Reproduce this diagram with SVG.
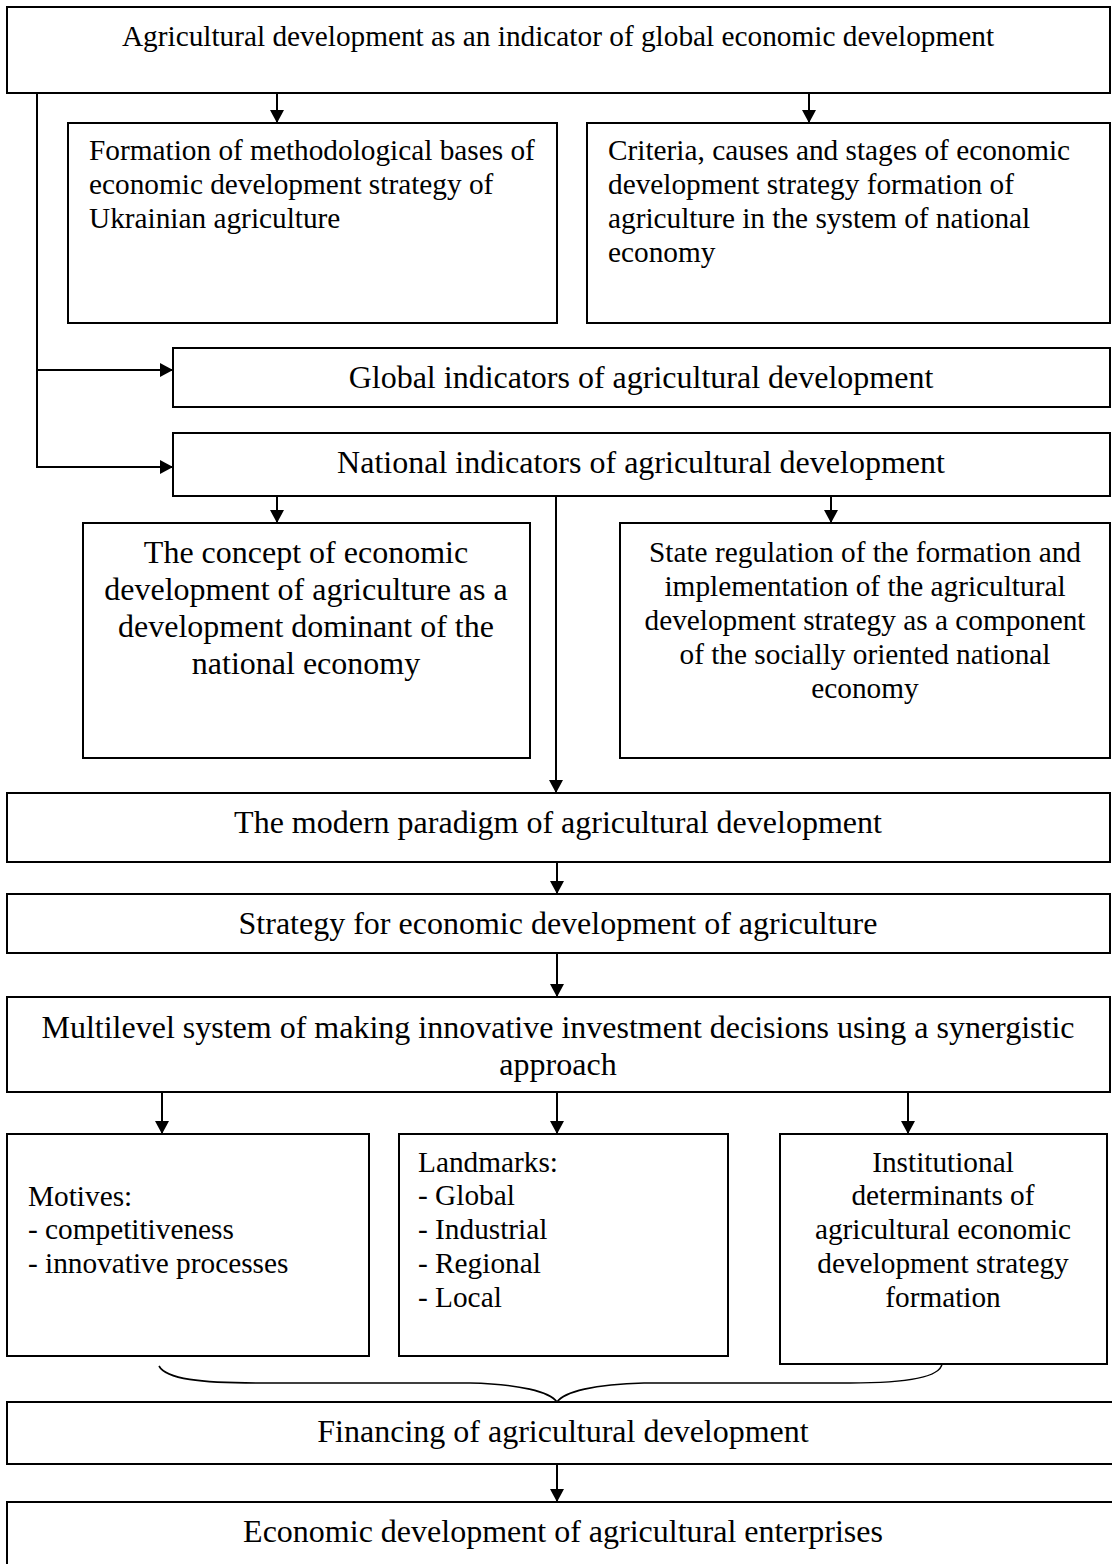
<svg xmlns="http://www.w3.org/2000/svg" width="1112" height="1564" viewBox="0 0 1112 1564">
<style>
  .box { fill: #fff; stroke: #000; stroke-width: 2; }
  .t { font-family: "Liberation Serif", "Times New Roman", serif; fill: #000; }
  .s { font-size: 29.3px; }
  .l { font-size: 32px; }
  .c { text-anchor: middle; }
  .conn { fill: none; stroke: #000; stroke-width: 2; }
  .brace { fill: none; stroke: #000; stroke-width: 1.6; }
</style>
<defs>
  <marker id="arr" viewBox="0 0 13 14" refX="13" refY="7" markerWidth="13" markerHeight="14" markerUnits="userSpaceOnUse" orient="auto">
    <path d="M0,0 L13,7 L0,14 z" fill="#000"/>
  </marker>
</defs>
<rect width="1112" height="1564" fill="#fff"/>

<g id="connectors">
  <line class="conn" x1="277" y1="93" x2="277" y2="123" marker-end="url(#arr)"/>
  <line class="conn" x1="809" y1="93" x2="809" y2="123" marker-end="url(#arr)"/>
  <polyline class="conn" points="37,93 37,467 173,467" marker-end="url(#arr)"/>
  <line class="conn" x1="37" y1="370" x2="173" y2="370" marker-end="url(#arr)"/>
  <line class="conn" x1="277" y1="496" x2="277" y2="523" marker-end="url(#arr)"/>
  <line class="conn" x1="831" y1="496" x2="831" y2="523" marker-end="url(#arr)"/>
  <line class="conn" x1="556" y1="496" x2="556" y2="793" marker-end="url(#arr)"/>
  <line class="conn" x1="557" y1="862" x2="557" y2="894" marker-end="url(#arr)"/>
  <line class="conn" x1="557" y1="953" x2="557" y2="997" marker-end="url(#arr)"/>
  <line class="conn" x1="162" y1="1092" x2="162" y2="1134" marker-end="url(#arr)"/>
  <line class="conn" x1="557" y1="1092" x2="557" y2="1134" marker-end="url(#arr)"/>
  <line class="conn" x1="908" y1="1092" x2="908" y2="1134" marker-end="url(#arr)"/>
  <path class="brace" d="M159,1366 C166,1379 200,1383 260,1383 L470,1383 C520,1384 550,1392 557,1402 C564,1392 594,1384 644,1383 L850,1383 C910,1383 940,1377 942,1364"/>
  <line class="conn" x1="557" y1="1464" x2="557" y2="1502" marker-end="url(#arr)"/>
</g>

<g id="n-top">
  <rect class="box" x="7" y="7" width="1103" height="86"/>
  <text class="t s c" x="558" y="46">Agricultural development as an indicator of global economic development</text>
</g>

<g id="n-formation">
  <rect class="box" x="68" y="123" width="489" height="200"/>
  <text class="t s" x="89" y="160">Formation of methodological bases of</text>
  <text class="t s" x="89" y="194">economic development strategy of</text>
  <text class="t s" x="89" y="228">Ukrainian agriculture</text>
</g>

<g id="n-criteria">
  <rect class="box" x="587" y="123" width="523" height="200"/>
  <text class="t s" x="608" y="160">Criteria, causes and stages of economic</text>
  <text class="t s" x="608" y="194">development strategy formation of</text>
  <text class="t s" x="608" y="228">agriculture in the system of national</text>
  <text class="t s" x="608" y="262">economy</text>
</g>

<g id="n-global">
  <rect class="box" x="173" y="348" width="937" height="59"/>
  <text class="t l c" x="641" y="388">Global indicators of agricultural development</text>
</g>

<g id="n-national">
  <rect class="box" x="173" y="433" width="937" height="63"/>
  <text class="t l c" x="641" y="473">National indicators of agricultural development</text>
</g>

<g id="n-concept">
  <rect class="box" x="83" y="523" width="447" height="235"/>
  <text class="t l c" x="306" y="563">The concept of economic</text>
  <text class="t l c" x="306" y="600">development of agriculture as a</text>
  <text class="t l c" x="306" y="637">development dominant of the</text>
  <text class="t l c" x="306" y="674">national economy</text>
</g>

<g id="n-state">
  <rect class="box" x="620" y="523" width="490" height="235"/>
  <text class="t s c" x="865" y="562">State regulation of the formation and</text>
  <text class="t s c" x="865" y="596">implementation of the agricultural</text>
  <text class="t s c" x="865" y="630">development strategy as a component</text>
  <text class="t s c" x="865" y="664">of the socially oriented national</text>
  <text class="t s c" x="865" y="698">economy</text>
</g>

<g id="n-paradigm">
  <rect class="box" x="7" y="793" width="1103" height="69"/>
  <text class="t l c" x="558" y="833">The modern paradigm of agricultural development</text>
</g>

<g id="n-strategy">
  <rect class="box" x="7" y="894" width="1103" height="59"/>
  <text class="t l c" x="558" y="934">Strategy for economic development of agriculture</text>
</g>

<g id="n-multilevel">
  <rect class="box" x="7" y="997" width="1103" height="95"/>
  <text class="t l c" x="558" y="1038">Multilevel system of making innovative investment decisions using a synergistic</text>
  <text class="t l c" x="558" y="1075">approach</text>
</g>

<g id="n-motives">
  <rect class="box" x="7" y="1134" width="362" height="222"/>
  <text class="t s" x="28" y="1206">Motives:</text>
  <text class="t s" x="28" y="1239">- competitiveness</text>
  <text class="t s" x="28" y="1273">- innovative processes</text>
</g>

<g id="n-landmarks">
  <rect class="box" x="399" y="1134" width="329" height="222"/>
  <text class="t s" x="418" y="1172">Landmarks:</text>
  <text class="t s" x="418" y="1205">- Global</text>
  <text class="t s" x="418" y="1239">- Industrial</text>
  <text class="t s" x="418" y="1273">- Regional</text>
  <text class="t s" x="418" y="1307">- Local</text>
</g>

<g id="n-institutional">
  <rect class="box" x="780" y="1134" width="327" height="230"/>
  <text class="t s c" x="943" y="1172">Institutional</text>
  <text class="t s c" x="943" y="1205">determinants of</text>
  <text class="t s c" x="943" y="1239">agricultural economic</text>
  <text class="t s c" x="943" y="1273">development strategy</text>
  <text class="t s c" x="943" y="1307">formation</text>
</g>

<g id="n-financing">
  <rect class="box" x="7" y="1402" width="1112" height="62"/>
  <text class="t l c" x="563" y="1442">Financing of agricultural development</text>
</g>

<g id="n-enterprises">
  <rect class="box" x="7" y="1502" width="1112" height="70"/>
  <text class="t l c" x="563" y="1542">Economic development of agricultural enterprises</text>
</g>
</svg>
